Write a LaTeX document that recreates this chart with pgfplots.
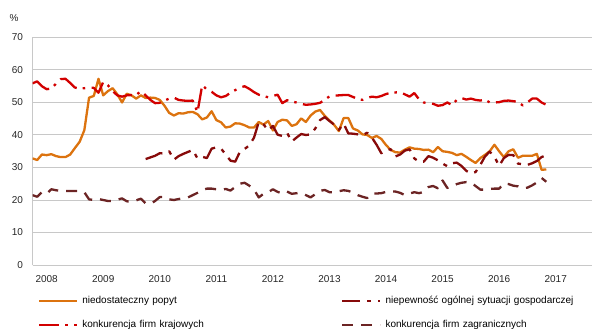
\documentclass[border=0pt]{standalone}
\usepackage{pgfplots}
\pgfplotsset{compat=1.18}
\usepackage{pgfplotstable}
\usepackage{fontspec}
\setmainfont{Liberation Sans}
\definecolor{cOrange}{RGB}{220,115,15}
\definecolor{cDark}{RGB}{135,10,10}
\definecolor{cRed}{RGB}{210,0,0}
\definecolor{cBrown}{RGB}{108,36,36}
\definecolor{cGrid}{RGB}{200,200,200}
% m = month index (0 = Oct 2007); o = niedostateczny popyt; d = niepewnosc; r = konkurencja krajowa; b = konkurencja zagraniczna
\pgfplotstableread{
m o d r b
0 32.8 nan 55.9 21.5
1 32.3 nan 56.5 21.0
2 34.0 nan 55.0 22.4
3 33.8 nan 54.1 21.9
4 34.1 nan 54.3 23.3
5 33.5 nan 55.8 23.0
6 33.2 nan 57.2 22.8
7 33.2 nan 57.3 22.8
8 34.0 nan 56.0 22.8
9 36.0 nan 54.6 22.8
10 37.9 nan 54.3 22.7
11 41.5 nan 54.4 22.4
12 51.5 nan 54.6 20.2
13 52.0 nan 54.5 20.0
14 57.3 nan 53.0 20.3
15 52.2 nan 56.3 20.0
16 53.5 nan 55.3 19.7
17 54.4 nan 53.5 19.7
18 52.5 nan 52.2 20.1
19 50.0 nan 51.8 20.5
20 52.7 nan 52.2 19.6
21 52.2 nan 52.3 19.5
22 51.2 nan 52.3 19.9
23 52.2 nan 53.5 20.4
24 51.4 32.6 52.2 19.0
25 51.5 33.1 50.8 18.8
26 51.4 33.6 49.8 19.7
27 50.8 34.4 49.9 20.9
28 49.0 34.3 50.6 21.0
29 46.8 35.0 51.2 20.2
30 46.0 32.4 51.5 20.0
31 46.7 33.5 50.8 20.3
32 46.6 34.2 50.6 20.5
33 47.0 34.8 50.5 20.8
34 47.1 35.4 50.6 21.5
35 46.4 32.8 47.0 22.2
36 44.8 33.3 55.3 23.0
37 45.4 32.9 54.0 23.5
38 47.3 35.8 53.3 23.5
39 44.6 36.2 52.2 23.3
40 43.9 35.8 51.6 23.1
41 42.3 34.0 52.0 23.4
42 42.6 32.1 53.0 22.9
43 43.6 31.8 53.8 24.0
44 43.5 34.8 54.6 25.0
45 43.0 35.7 55.0 25.3
46 42.3 36.8 54.2 24.4
47 42.3 39.2 53.2 23.2
48 44.0 44.0 52.4 20.8
49 43.2 43.3 52.0 21.9
50 44.3 41.4 51.6 22.4
51 41.4 42.8 52.0 23.3
52 44.0 40.1 52.4 22.5
53 44.7 39.7 49.8 22.0
54 44.5 40.7 50.7 22.6
55 42.8 38.0 50.3 21.9
56 43.3 39.2 50.0 22.1
57 45.1 40.3 49.6 22.2
58 44.0 40.0 49.3 21.5
59 46.0 40.2 49.4 20.8
60 47.2 42.0 49.6 21.8
61 47.7 44.6 49.9 22.8
62 45.9 45.5 50.8 23.1
63 44.5 44.3 51.9 22.4
64 43.1 43.2 52.1 22.4
65 41.2 41.6 52.2 22.7
66 45.2 43.5 52.3 23.0
67 45.2 40.5 52.3 22.8
68 42.0 40.4 51.7 22.3
69 41.4 40.2 51.1 21.5
70 40.2 39.9 50.8 21.0
71 40.0 40.7 51.4 20.6
72 39.1 39.2 51.8 22.0
73 39.7 37.0 51.6 22.0
74 38.8 34.4 52.0 22.1
75 36.9 35.4 52.6 22.5
76 35.4 35.6 53.0 22.6
77 34.7 33.4 53.1 22.6
78 34.6 34.0 53.2 22.2
79 35.5 35.2 52.5 21.5
80 36.2 35.6 51.8 22.0
81 35.8 32.8 52.9 22.4
82 35.7 31.8 51.0 22.1
83 35.4 31.8 50.0 22.5
84 35.5 33.5 49.8 24.0
85 34.7 33.0 49.6 24.3
86 36.3 32.2 49.0 23.6
87 35.0 31.2 49.2 26.0
88 34.8 30.4 50.0 23.7
89 34.5 31.3 49.2 24.3
90 33.8 31.5 50.8 24.9
91 34.2 30.5 51.4 25.3
92 33.3 29.0 50.9 25.5
93 32.3 28.2 51.2 25.4
94 31.4 28.6 50.8 24.3
95 32.9 30.8 50.6 23.2
96 33.9 33.4 50.9 23.2
97 35.0 34.9 50.0 23.4
98 37.0 33.3 50.0 23.5
99 35.0 30.5 50.1 23.5
100 33.2 32.9 50.5 25.1
101 35.0 33.9 50.6 24.9
102 35.6 33.8 50.4 24.4
103 33.0 31.2 50.2 24.2
104 33.6 31.0 49.1 23.6
105 33.6 30.8 50.0 23.8
106 33.6 31.3 51.2 24.5
107 34.2 32.0 51.2 25.4
108 29.3 33.2 50.0 26.8
109 29.4 33.8 49.3 25.6
}\data
\begin{document}
\begin{tikzpicture}
\fontsize{10bp}{12bp}\selectfont
\begin{axis}[
  name=ax,
  scale only axis,
  width=559.5bp, height=227.5bp,
  xmin=0, xmax=118.7,
  ymin=0, ymax=70,
  ytick={0,10,...,70},
  xtick={3,15,...,111},
  xticklabels={2008,2009,2010,2011,2012,2013,2014,2015,2016,2017},
  major tick length=0pt,
  axis x line*=bottom, axis y line*=left,
  axis line style={draw=cGrid, line width=1bp},
  ymajorgrids,
  grid style={draw=cGrid, line width=1bp},
  /pgf/number format/assume math mode=true,
  tick label style={font=\fontsize{10bp}{12bp}\selectfont, text=black!85},
  yticklabel style={xshift=-6bp},
  xticklabel style={yshift=-6.5bp},
  unbounded coords=jump,
  every axis plot/.append style={line width=2.3bp, line join=round},
  legend columns=2,
  legend cell align=left,
  legend image code/.code={\draw[#1] (0bp,0bp) -- (38bp,0bp);},
  legend style={
    at={(rel axis cs:0,0)}, anchor=north west,
    xshift=5.5bp, yshift=-30.5bp,
    draw=none, fill=none, inner sep=0pt, outer sep=0pt,
    font=\fontsize{10bp}{12bp}\selectfont,
    nodes={inner sep=1bp, text height=7bp, text depth=2bp, text width=258bp},
    row sep=13bp,
    /tikz/every odd column/.append style={column sep=3bp},
  },
]
\addplot[cOrange] table[x=m, y=o] {\data};
\addlegendentry{niedostateczny popyt}
\addplot[cDark, dash pattern=on 18bp off 7bp on 4bp off 7bp] table[x=m, y=d] {\data};
\addlegendentry{niepewność ogólnej sytuacji gospodarczej}
\addplot[cRed, dash pattern=on 20bp off 6bp on 2.5bp off 6.5bp] table[x=m, y=r] {\data};
\addlegendentry{konkurencja firm krajowych}
\addplot[cBrown, dash pattern=on 11bp off 8bp] table[x=m, y=b] {\data};
\addlegendentry{konkurencja firm zagranicznych}
\end{axis}
\node[anchor=center, text=black!85, font=\fontsize{10bp}{12bp}\selectfont] at ([shift={(-18.5bp,19bp)}]ax.north west) {\%};
\pgfresetboundingbox
\path[use as bounding box] ([shift={(-32.5bp,-64bp)}]ax.south west) rectangle ([shift={(1bp,37.5bp)}]ax.north east);
\end{tikzpicture}
\end{document}
